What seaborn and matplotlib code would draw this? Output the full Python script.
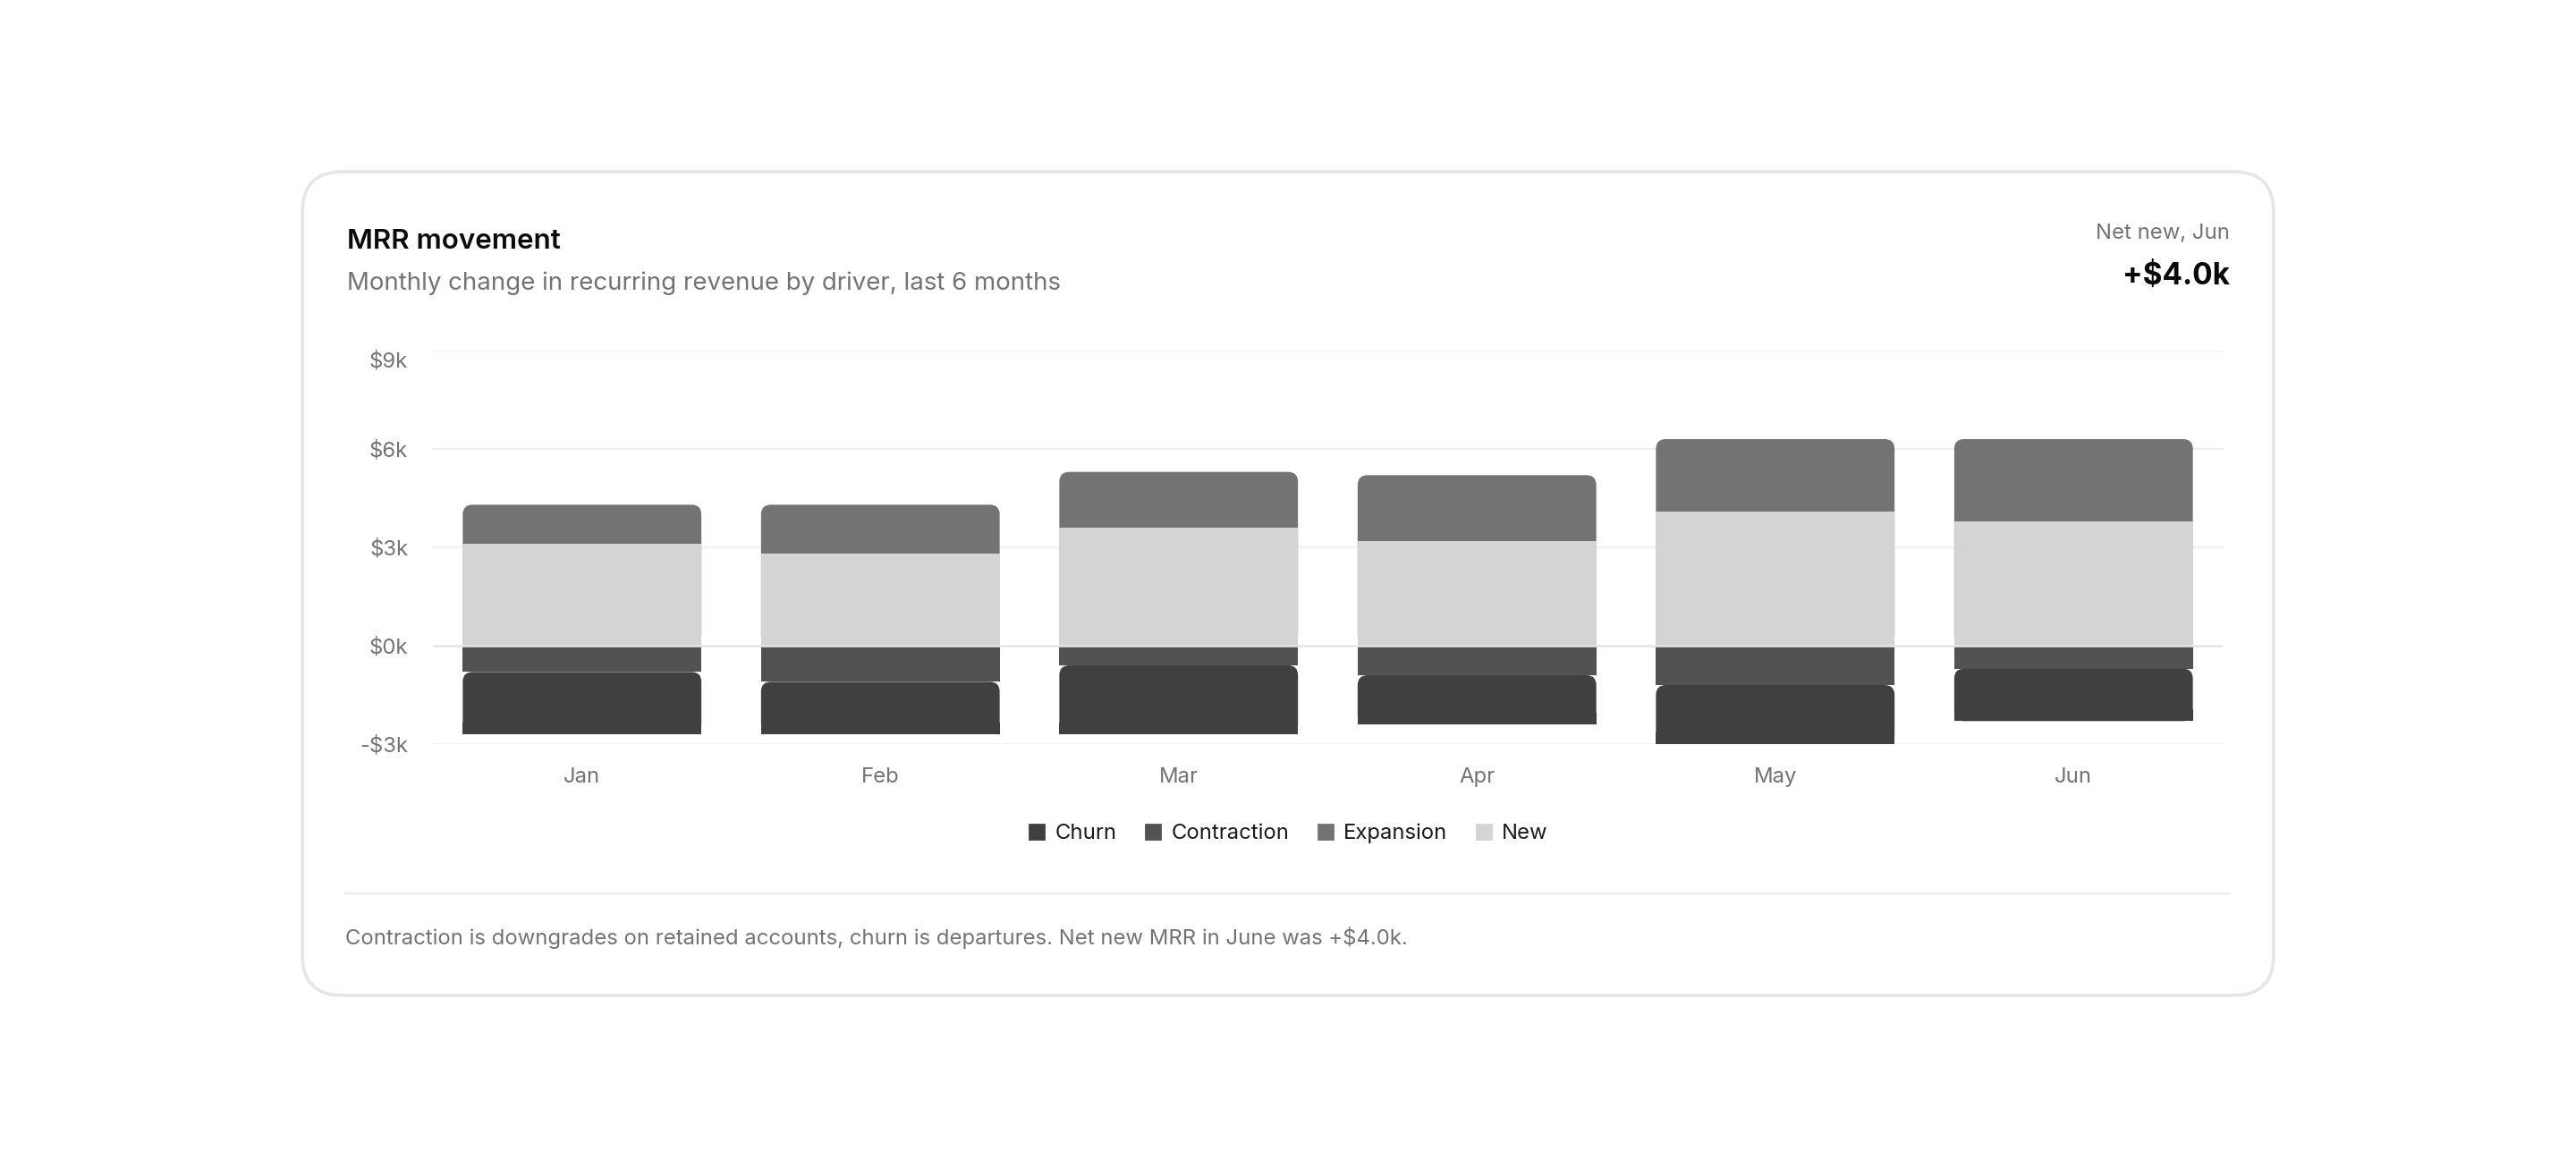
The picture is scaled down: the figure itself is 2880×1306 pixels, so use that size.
import numpy as np
import pandas as pd
import matplotlib.pyplot as plt
import seaborn as sns
from matplotlib.patches import FancyBboxPatch, Rectangle
from matplotlib.lines import Line2D
from matplotlib.transforms import ScaledTranslation

# Datos (miles de dólares)
months = ["Jan", "Feb", "Mar", "Apr", "May", "Jun"]
new = [3.1, 2.8, 3.6, 3.2, 4.1, 3.8]
expansion = [1.2, 1.5, 1.7, 2.0, 2.2, 2.5]
contraction = [-0.8, -1.1, -0.6, -0.9, -1.2, -0.7]
churn = [-1.9, -1.6, -2.1, -1.5, -1.8, -1.6]
y_ticks = [-3, 0, 3, 6, 9]
y_tick_labels = ["-$3k", "$0k", "$3k", "$6k", "$9k"]
legend_labels = ["Churn", "Contraction", "Expansion", "New"]

C_CHURN = "#404040"
C_CONTR = "#525252"
C_EXP = "#737373"
C_NEW = "#d4d4d4"
GRAY = "#737373"

sns.set_theme(style="white")
plt.rcParams['font.family'] = ['Inter', 'DejaVu Sans']
plt.rcParams['text.parse_math'] = False

W, H = 2880, 1306
fig = plt.figure(figsize=(W / 200, H / 200), dpi=200)

# Tarjeta de fondo
card = FancyBboxPatch((338 / 200, (H - 1113) / 200), (2542 - 338) / 200, (1113 - 192) / 200,
                      boxstyle="round,pad=0,rounding_size=0.225",
                      transform=fig.dpi_scale_trans, fc="white", ec="#e5e5e5", lw=1.3, zorder=-1)
fig.add_artist(card)

ax = fig.add_axes([484 / W, 1 - 832 / H, (2485 - 484) / W, (832 - 392) / H])
ax.set_facecolor("none")

df = pd.DataFrame({"month": months, "new": new, "expansion": expansion,
                   "contraction": contraction, "churn": churn})
df["pos_total"] = df["new"] + df["expansion"]
df["neg_total"] = df["contraction"] + df["churn"]


def layer(col, color):
    n0 = len(ax.patches)
    sns.barplot(data=df, x="month", y=col, order=months, color=color, saturation=1,
                width=0.8, errorbar=None, ax=ax, zorder=2, edgecolor="none", linewidth=0)
    return list(ax.patches[n0:])


exp_bars = layer("pos_total", C_EXP)
new_bars = layer("new", C_NEW)
churn_bars = layer("neg_total", C_CHURN)
contr_bars = layer("contraction", C_CONTR)

ax.set_xlim(-0.5, 5.5)
ax.set_ylim(-3, 9)

# Esquinas redondeadas
rx = 11 / 333.4
ry = 11 / 36.67
for p in exp_bars:
    x, w = p.get_x(), p.get_width()
    y0, y1 = sorted([p.get_y(), p.get_y() + p.get_height()])
    p.remove()
    ax.add_patch(FancyBboxPatch((x, y0), w, y1 - y0,
                                boxstyle=f"round,pad=0,rounding_size={rx}",
                                mutation_aspect=ry / rx, fc=C_EXP, ec="none", zorder=1.9))

for p, q in zip(churn_bars, contr_bars):
    x, w = p.get_x(), p.get_width()
    y0 = min(p.get_y(), p.get_y() + p.get_height())
    top = min(q.get_y(), q.get_y() + q.get_height())
    p.remove()
    ax.add_patch(FancyBboxPatch((x, y0), w, top - y0,
                                boxstyle=f"round,pad=0,rounding_size={rx}",
                                mutation_aspect=ry / rx, fc=C_CHURN, ec="none", zorder=2))
    ax.add_patch(Rectangle((x, y0), w, ry * 1.2, fc=C_CHURN, ec="none", lw=0, zorder=2))

# Rejilla
for t in y_ticks:
    if t == 0:
        ax.axhline(t, color="#e5e5e5", lw=0.9, zorder=3)
    else:
        ax.axhline(t, color="#f0f0f0", lw=0.8, zorder=0.5)

ax.set_yticks(y_ticks)
ax.set_yticklabels(y_tick_labels)
ax.set_xlabel("")
ax.set_ylabel("")
ax.tick_params(axis="both", length=0, labelsize=8.6, labelcolor=GRAY)
ax.tick_params(axis="x", pad=9.5)
ax.tick_params(axis="y", pad=10)
sns.despine(ax=ax, left=True, bottom=True)

# la etiqueta superior queda algo por debajo de su línea
top_label = ax.get_yticklabels()[-1]
top_label.set_transform(top_label.get_transform() + ScaledTranslation(0, -10 / 200, fig.dpi_scale_trans))

# Leyenda
colors = [C_CHURN, C_CONTR, C_EXP, C_NEW]
handles = [Line2D([], [], marker="s", ls="", markersize=5.5, markerfacecolor=c, markeredgecolor=c)
           for c in colors]
fig.legend(handles, legend_labels, loc="center", bbox_to_anchor=(0.5, 1 - 932 / H), ncol=4,
           frameon=False, fontsize=8.6, handlelength=0.8, handletextpad=0.45, columnspacing=1.3,
           labelcolor="#1a1a1a")

# Textos
fig.text(388 / W, 1 - 278 / H, "MRR movement", fontsize=11.3, fontweight="semibold",
         color="#0a0a0a", va="baseline", ha="left")
fig.text(388 / W, 1 - 324 / H, "Monthly change in recurring revenue by driver, last 6 months",
         fontsize=9.95, color=GRAY, va="baseline", ha="left")
fig.text(2493 / W, 1 - 267 / H, "Net new, Jun", fontsize=8.6, color=GRAY,
         va="baseline", ha="right")
fig.text(2493 / W, 1 - 318 / H, "+$4.0k", fontsize=12.0, fontweight="bold",
         color="#0a0a0a", va="baseline", ha="right")

fig.add_artist(Line2D([386 / W, 2493 / W], [1 - 999 / H] * 2, transform=fig.transFigure,
                      color="#ebebeb", lw=0.8))
fig.text(386 / W, 1 - 1056 / H,
         "Contraction is downgrades on retained accounts, churn is departures. Net new MRR in June was +$4.0k.",
         fontsize=8.6, color=GRAY, va="baseline", ha="left")

fig.savefig("out.png", dpi=200, facecolor="white")
